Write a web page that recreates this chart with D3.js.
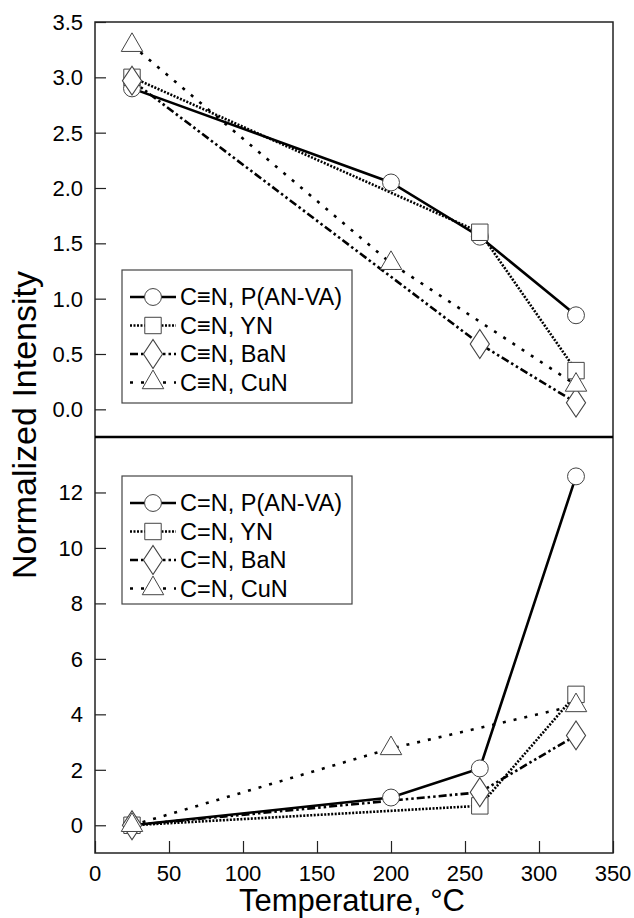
<!DOCTYPE html>
<html>
<head>
<meta charset="utf-8">
<script src="https://cdn.jsdelivr.net/npm/d3@7/dist/d3.min.js"></script>
<style>
  body { margin: 0; background: #fff; }
  text { font-family: "Liberation Sans", Arial, Helvetica, sans-serif; fill: #000; }
</style>
</head>
<body>
<div id="chart-holder"></div>
<script>
// temperatures (°C) shared by both panels
var temps = [25, 200, 260, 325];

// top panel: C≡N band
var tripleP = [2.90, 2.05, 1.56, 0.85];
var tripleYN = [3.00, null, 1.60, 0.35];
var tripleBaN = [2.97, null, 0.59, 0.06];
var tripleCuN = [3.29, 1.32, null, 0.22];

// bottom panel: C=N band
var doubleP = [0.00, 1.00, 2.05, 12.58];
var doubleYN = [0.00, null, 0.70, 4.72];
var doubleBaN = [0.00, null, 1.19, 3.24];
var doubleCuN = [0.00, 2.77, null, 4.32];

var seriesNames = ["P(AN-VA)", "YN", "BaN", "CuN"];
var xTicks = [0, 50, 100, 150, 200, 250, 300, 350];
var topTicks = [0, 0.5, 1, 1.5, 2, 2.5, 3, 3.5];
var bottomTicks = [0, 2, 4, 6, 8, 10, 12];

var width = 634;
var height = 918;
// plot edges (don't call these "top", window.top is read-only)
var plotLeft = 95, plotRight = 613, plotTop = 22, plotMid = 437, plotBottom = 853;

var svg = d3
  .select("#chart-holder")
  .append("svg")
  .attr("width", width)
  .attr("height", height);

var x = d3.scaleLinear().domain([0, 350]).range([plotLeft, plotRight]);
var yTop = d3.scaleLinear().domain([-0.25, 3.5]).range([plotMid, plotTop]);
var yBottom = d3.scaleLinear().domain([-1, 14]).range([plotBottom, plotMid]);

// one style per series: dash pattern + marker
var styles = [
  { dash: null, sym: d3.symbolCircle, size: 225 },
  { dash: "2,1.5", sym: d3.symbolSquare, size: 270 },
  { dash: "8,3,2.5,3,2.5,3", sym: d3.symbolDiamond, size: 240 },
  { dash: "3,8", sym: d3.symbolTriangle, size: 200 }
];

function markerTransform(i, px, py) {
  var s = styles[i].sym === d3.symbolDiamond ? " scale(1.15,1)" : "";
  return "translate(" + px + "," + py + ")" + s;
}

function drawPanel(y, data, ticks, fmt, bond, legendTop, legendH) {
  var g = svg.append("g");

  // inward y ticks
  g.append("g")
    .attr("transform", "translate(" + plotLeft + ",0)")
    .call(d3.axisRight(y).tickValues(ticks).tickSize(11).tickFormat(""))
    .call(function(a) {
      a.select(".domain").remove();
      a.selectAll("line").attr("stroke", "#222").attr("stroke-width", 1.2);
    });
  g.selectAll(".ylab")
    .data(ticks)
    .enter()
    .append("text")
    .attr("x", plotLeft - 12)
    .attr("y", function(d) { return y(d); })
    .attr("dy", "0.36em")
    .attr("text-anchor", "end")
    .style("font-size", "22px")
    .text(fmt);

  var line = d3
    .line()
    .x(function(d) { return x(d[0]); })
    .y(function(d) { return y(d[1]); });

  var pointSets = data.map(function(vals) {
    return temps.map(function(t, j) { return [t, vals[j]]; })
      .filter(function(d) { return d[1] != null; });
  });

  pointSets.forEach(function(pts, i) {
    g.append("path")
      .datum(pts)
      .attr("fill", "none")
      .attr("stroke", "#000")
      .attr("stroke-width", 2.6)
      .attr("stroke-dasharray", styles[i].dash)
      .attr("d", line);
  });

  pointSets.forEach(function(pts, i) {
    g.selectAll(".m" + i)
      .data(pts)
      .enter()
      .append("path")
      .attr("d", d3.symbol().type(styles[i].sym).size(styles[i].size))
      .attr("transform", function(d) { return markerTransform(i, x(d[0]), y(d[1])); })
      .attr("fill", "#fff")
      .attr("stroke", "#444")
      .attr("stroke-width", 1);
  });

  // legend
  var lg = g.append("g");
  lg.append("rect")
    .attr("x", 122)
    .attr("y", legendTop)
    .attr("width", 230)
    .attr("height", legendH)
    .attr("fill", "#fff")
    .attr("stroke", "#444")
    .attr("stroke-width", 1.2);
  seriesNames.forEach(function(name, i) {
    var ly = legendTop + 27 + i * 28.5;
    lg.append("line")
      .attr("x1", 130).attr("x2", 176)
      .attr("y1", ly).attr("y2", ly)
      .attr("stroke", "#000")
      .attr("stroke-width", 2.6)
      .attr("stroke-dasharray", styles[i].dash);
    lg.append("path")
      .attr("d", d3.symbol().type(styles[i].sym).size(styles[i].size))
      .attr("transform", markerTransform(i, 153, ly))
      .attr("fill", "#fff")
      .attr("stroke", "#444");
    lg.append("text")
      .attr("x", 180)
      .attr("y", ly)
      .attr("dy", "0.36em")
      .style("font-size", "23.5px")
      .text("C" + bond + "N, " + name);
  });
}

drawPanel(yTop, [tripleP, tripleYN, tripleBaN, tripleCuN], topTicks, d3.format(".1f"), "\u2261", 270, 133);
drawPanel(yBottom, [doubleP, doubleYN, doubleBaN, doubleCuN], bottomTicks, d3.format("d"), "=", 476, 128);

// x axis ticks pointing up
svg.append("g")
  .attr("transform", "translate(0," + plotBottom + ")")
  .call(d3.axisTop(x).tickValues(xTicks).tickSize(12).tickFormat(""))
  .call(function(a) {
    a.select(".domain").remove();
    a.selectAll("line").attr("stroke", "#222").attr("stroke-width", 1.2);
  });
svg.selectAll(".xlab")
  .data(xTicks)
  .enter()
  .append("text")
  .attr("x", function(d) { return x(d); })
  .attr("y", plotBottom + 28)
  .attr("text-anchor", "middle")
  .style("font-size", "22px")
  .text(function(d) { return d; });

// frames
svg.append("rect")
  .attr("x", plotLeft).attr("y", plotTop)
  .attr("width", plotRight - plotLeft).attr("height", plotBottom - plotTop)
  .attr("fill", "none")
  .attr("stroke", "#222")
  .attr("stroke-width", 1.5);
svg.append("line")
  .attr("x1", plotLeft).attr("x2", plotRight)
  .attr("y1", plotMid).attr("y2", plotMid)
  .attr("stroke", "#000")
  .attr("stroke-width", 2.5);

// axis titles
svg.append("text")
  .attr("x", 352)
  .attr("y", 911)
  .attr("text-anchor", "middle")
  .style("font-size", "31px")
  .text("Temperature, \u00b0C");
svg.append("text")
  .attr("transform", "translate(36,425) rotate(-90)")
  .attr("text-anchor", "middle")
  .style("font-size", "34px")
  .text("Normalized Intensity");
</script>
</body>
</html>
